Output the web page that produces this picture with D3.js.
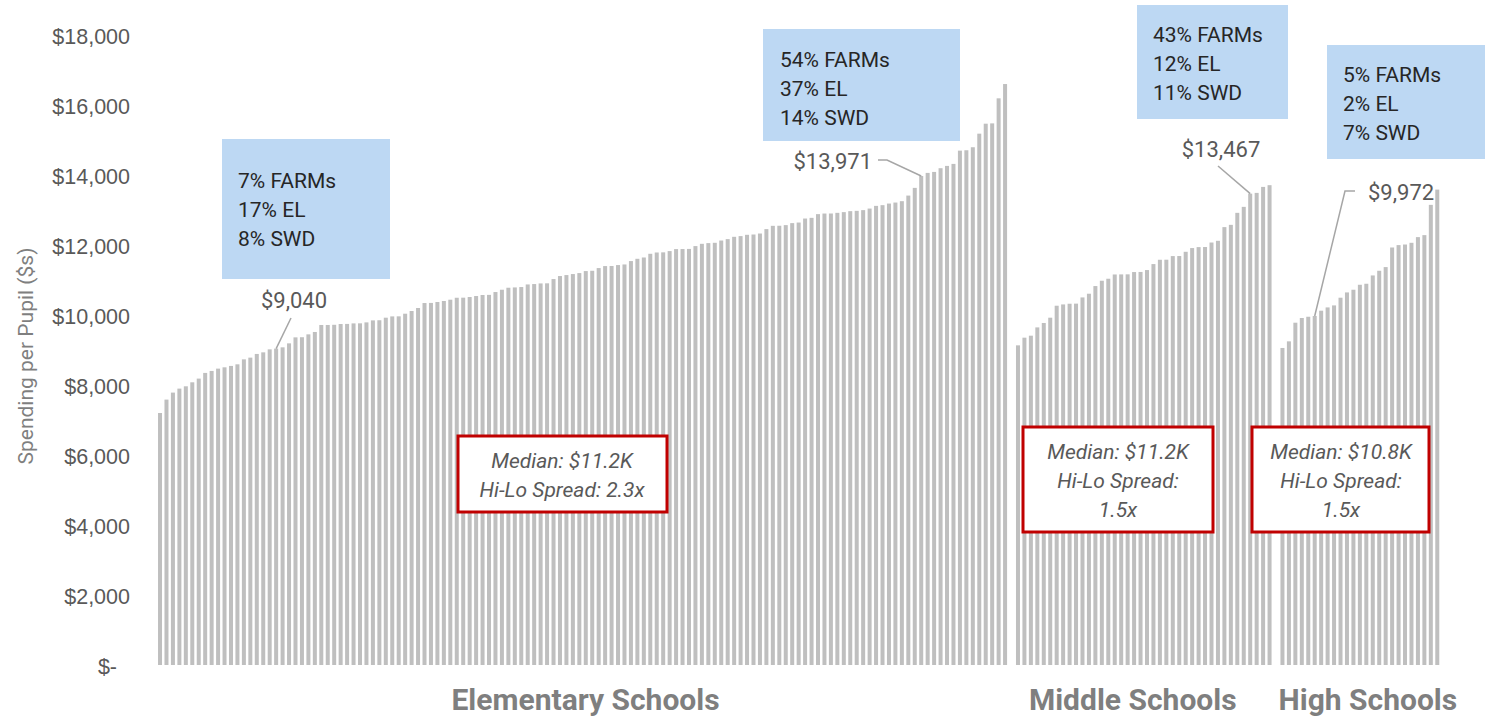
<!DOCTYPE html>
<html lang="en">
<head>
<meta charset="utf-8">
<title>Spending per Pupil by School</title>
<style>
  body { margin: 0; background: #fff; }
  svg { display: block; font-family: Roboto, "Liberation Sans", sans-serif; }
  .tick text { fill: #595959; font-size: 21.5px; }
  .callout text { fill: #595959; font-size: 22px; }
  .profile text { fill: #262626; font-size: 21px; }
  .summary text { fill: #595959; font-size: 21px; font-style: italic; }
  .group-label { fill: #7f7f7f; font-size: 30px; font-weight: bold; }
  .axis-title { fill: #7f7f7f; font-size: 21px; }
</style>
</head>
<body>
<script src="https://cdn.jsdelivr.net/npm/d3@7"></script>
<script>
// spending per pupil, sorted low to high within each school level
var elementary = [7200, 7583, 7783, 7897, 7963, 8077, 8183, 8345, 8402, 8468,
  8505, 8545, 8591, 8733, 8782, 8887, 8933, 9018, 9040, 9076,
  9190, 9361, 9365, 9447, 9515, 9715, 9715, 9720, 9743, 9745,
  9760, 9762, 9789, 9846, 9850, 9923, 9960, 9962, 10037, 10114,
  10200, 10342, 10345, 10371, 10400, 10437, 10493, 10495, 10514, 10542,
  10571, 10575, 10656, 10722, 10779, 10788, 10799, 10873, 10884, 10902,
  10905, 11027, 11113, 11141, 11170, 11198, 11255, 11264, 11341, 11398,
  11400, 11427, 11444, 11541, 11606, 11643, 11749, 11786, 11790, 11826,
  11883, 11885, 11888, 11969, 12034, 12054, 12063, 12128, 12168, 12234,
  12254, 12291, 12300, 12328, 12454, 12548, 12550, 12568, 12625, 12642,
  12756, 12776, 12882, 12899, 12900, 12919, 12939, 12967, 12976, 12996,
  13041, 13118, 13138, 13184, 13213, 13252, 13412, 13632, 13971, 14060,
  14088, 14194, 14260, 14317, 14696, 14707, 14793, 15181, 15466, 15475,
  16191, 16599];

var middle = [9133, 9352, 9409, 9646, 9772, 9923, 10265, 10302, 10322, 10325,
  10502, 10608, 10827, 10979, 11036, 11158, 11160, 11162, 11227, 11230,
  11284, 11455, 11578, 11580, 11683, 11685, 11806, 11912, 11940, 11942,
  12071, 12120, 12511, 12576, 12919, 13090, 13467, 13489, 13660, 13709];

var high = [9058, 9247, 9780, 9914, 9950, 9972, 10123, 10217, 10274, 10494,
  10645, 10722, 10864, 10893, 11130, 11264, 11369, 11929, 11997, 12014,
  12063, 12225, 12282, 13147, 13583];

var groupNames = ["Elementary Schools", "Middle Schools", "High Schools"];
var yTicks = [0, 2000, 4000, 6000, 8000, 10000, 12000, 14000, 16000, 18000];

// demographic profile of the highlighted schools
var profiles = [
  ["7% FARMs", "17% EL", "8% SWD"],
  ["54% FARMs", "37% EL", "14% SWD"],
  ["43% FARMs", "12% EL", "11% SWD"],
  ["5% FARMs", "2% EL", "7% SWD"]
];
// [group, index in group, label]
var callouts = [[0, 18, "$9,040"], [0, 118, "$13,971"], [1, 36, "$13,467"], [2, 5, "$9,972"]];
var summaries = [
  ["Median: $11.2K", "Hi-Lo Spread: 2.3x"],
  ["Median: $11.2K", "Hi-Lo Spread:", "1.5x"],
  ["Median: $10.8K", "Hi-Lo Spread:", "1.5x"]
];

var width = 1485, height = 720;

// one slot per school, with an empty slot between levels
var groups = [elementary, middle, high];
var rows = [];
groups.forEach(function(vals, g) {
  if (g > 0) rows.push({ id: "gap" + g, group: -1, value: null });
  vals.forEach(function(v, i) {
    rows.push({ id: g + "-" + i, group: g, index: i, value: v });
  });
});

var x = d3.scaleBand()
  .domain(rows.map(function(d) { return d.id; }))
  .range([156.8, 1440.5])
  .paddingInner(0.38)
  .paddingOuter(0.19);

var y = d3.scaleLinear().domain([0, 18000]).range([665, 35]);

var svg = d3.select("body").append("svg")
  .attr("width", width)
  .attr("height", height);

svg.selectAll(".bar")
  .data(rows.filter(function(d) { return d.value !== null; }))
  .enter().append("rect")
  .attr("class", "bar")
  .attr("x", function(d) { return x(d.id); })
  .attr("width", x.bandwidth())
  .attr("y", function(d) { return y(d.value); })
  .attr("height", function(d) { return y(0) - y(d.value); })
  .attr("fill", "#bfbfbf");

var yAxis = d3.axisLeft(y)
  .tickValues(yTicks)
  .tickSize(0)
  .tickPadding(0)
  .tickFormat(function(v) { return v === 0 ? "$-" : d3.format("$,")(v); });

var yg = svg.append("g")
  .attr("class", "y axis")
  .attr("transform", "translate(130,0)")
  .call(yAxis);
yg.select(".domain").remove();
yg.selectAll(".tick text")
  .attr("x", function(d) { return d === 0 ? -13 : 0; })
  .attr("dy", "0.4em");

svg.append("text")
  .attr("class", "axis-title")
  .attr("transform", "translate(33,356) rotate(-90)")
  .attr("text-anchor", "middle")
  .text("Spending per Pupil ($s)");

// level labels under each block of bars
var labelShift = [3, -11, 8];
groupNames.forEach(function(name, g) {
  var first = x(g + "-0"), last = x(g + "-" + (groups[g].length - 1)) + x.bandwidth();
  svg.append("text")
    .attr("class", "group-label")
    .attr("x", (first + last) / 2 + labelShift[g])
    .attr("y", 710)
    .attr("text-anchor", "middle")
    .text(name);
});

// blue profile boxes
var profileBoxes = [
  { x: 222, y: 139, w: 168, h: 140, tx: 238, ty: 188 },
  { x: 763, y: 29, w: 197, h: 112, tx: 780, ty: 66.5 },
  { x: 1137, y: 5, w: 151, h: 114, tx: 1153, ty: 41.5 },
  { x: 1327, y: 45, w: 158, h: 114, tx: 1343, ty: 81.5 }
];
profileBoxes.forEach(function(b, i) {
  var g = svg.append("g").attr("class", "profile");
  g.append("rect")
    .attr("x", b.x).attr("y", b.y)
    .attr("width", b.w).attr("height", b.h)
    .attr("fill", "#bdd8f3");
  g.selectAll("text")
    .data(profiles[i])
    .enter().append("text")
    .attr("x", b.tx)
    .attr("y", function(d, j) { return b.ty + j * 29.2; })
    .text(function(d) { return d; });
});

// callout labels with leader lines to the highlighted bar
var calloutPos = [
  { tx: 294, ty: 308, anchor: "middle", pts: [[291, 318]] },
  { tx: 872, ty: 169, anchor: "end", pts: [[878, 160], [887, 160]] },
  { tx: 1221, ty: 157, anchor: "middle", pts: [[1218, 166]] },
  { tx: 1368, ty: 200, anchor: "start", pts: [[1355, 191], [1345, 191]] }
];
var line = d3.line();
callouts.forEach(function(c, i) {
  var p = calloutPos[i];
  var id = c[0] + "-" + c[1];
  var bar = [x(id) + x.bandwidth() / 2, y(groups[c[0]][c[1]])];
  var g = svg.append("g").attr("class", "callout");
  g.append("path")
    .attr("d", line(p.pts.concat([bar])))
    .attr("fill", "none")
    .attr("stroke", "#a6a6a6")
    .attr("stroke-width", 1.5);
  g.append("text")
    .attr("x", p.tx)
    .attr("y", p.ty)
    .attr("text-anchor", p.anchor)
    .text(c[2]);
});

// red summary boxes
var summaryBoxes = [
  { x: 458, y: 436, w: 209, h: 76, cx: 562, ty: 468 },
  { x: 1023, y: 427, w: 190, h: 105, cx: 1118, ty: 459 },
  { x: 1252, y: 427, w: 177, h: 105, cx: 1341, ty: 459 }
];
summaryBoxes.forEach(function(b, i) {
  var g = svg.append("g").attr("class", "summary");
  g.append("rect")
    .attr("x", b.x).attr("y", b.y)
    .attr("width", b.w).attr("height", b.h)
    .attr("fill", "#fff")
    .attr("stroke", "#c00000")
    .attr("stroke-width", 3);
  g.selectAll("text")
    .data(summaries[i])
    .enter().append("text")
    .attr("x", b.cx)
    .attr("y", function(d, j) { return b.ty + j * 28.8; })
    .attr("text-anchor", "middle")
    .text(function(d) { return d; });
});
</script>
</body>
</html>
